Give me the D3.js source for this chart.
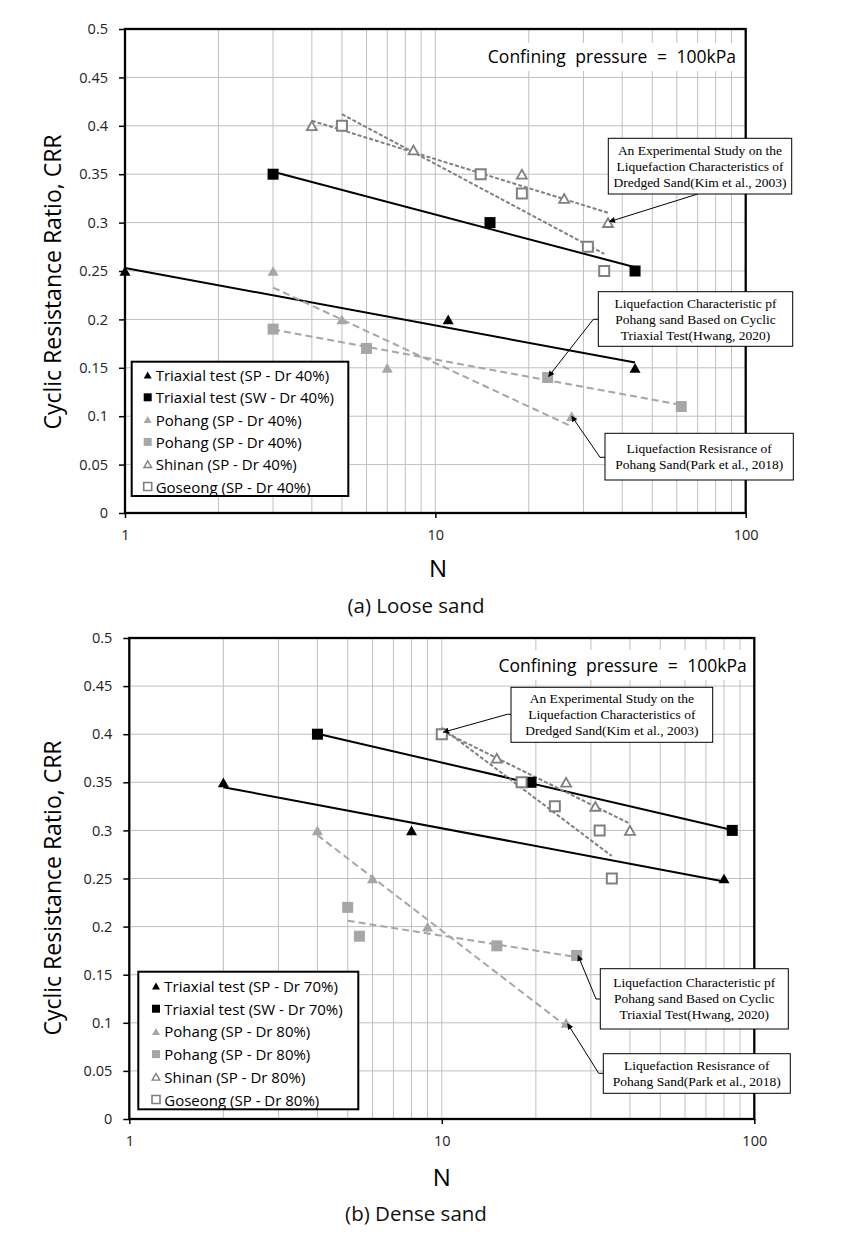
<!DOCTYPE html>
<html><head><meta charset="utf-8">
<script src="https://cdn.jsdelivr.net/npm/d3@7"></script>
<style>body{margin:0;background:#fff} svg{display:block}</style>
</head><body><svg id="c" width="843" height="1233"></svg>
<script>
// ---------------- data ----------------
const yTickValues = [0, 0.05, 0.1, 0.15, 0.2, 0.25, 0.3, 0.35, 0.4, 0.45, 0.5];
const yTickLabels = ["0", "0.05", "0.1", "0.15", "0.2", "0.25", "0.3", "0.35", "0.4", "0.45", "0.5"];
const xTickValues = [1, 10, 100];
const xTickLabels = ["1", "10", "100"];
const yAxisTitle = "Cyclic Resistance Ratio, CRR";
const xAxisTitle = "N";
const pressureNote = "Confining pressure = 100kPa";

// (a) Loose sand  — [N, CRR]
const looseTriaxialSP = [[1, 0.25], [11, 0.2], [44, 0.15]];
const looseTriaxialSW = [[3, 0.35], [15, 0.3], [44, 0.25]];
const loosePohangTri  = [[3, 0.25], [5, 0.2], [7, 0.15], [27.5, 0.1]];
const loosePohangSq   = [[3, 0.19], [6, 0.17], [23, 0.14], [62, 0.11]];
const looseShinan     = [[4, 0.4], [8.5, 0.375], [19, 0.35], [26, 0.325], [36, 0.3]];
const looseGoseong    = [[5, 0.4], [14, 0.35], [19, 0.33], [31, 0.275], [35, 0.25]];
const looseLegend = ["Triaxial test (SP - Dr 40%)", "Triaxial test (SW - Dr 40%)", "Pohang (SP - Dr 40%)",
                     "Pohang (SP - Dr 40%)", "Shinan (SP - Dr 40%)", "Goseong (SP - Dr 40%)"];
const looseCaption = "(a) Loose sand";

// (b) Dense sand — [N, CRR]
const denseTriaxialSP = [[2, 0.35], [8, 0.3], [80, 0.25]];
const denseTriaxialSW = [[4, 0.4], [19.3, 0.35], [85, 0.3]];
const densePohangTri  = [[4, 0.3], [6, 0.25], [9, 0.2], [25, 0.1]];
const densePohangSq   = [[5, 0.22], [5.45, 0.19], [15, 0.18], [27, 0.17]];
const denseShinan     = [[10, 0.4], [15, 0.375], [25, 0.35], [31, 0.325], [40, 0.3]];
const denseGoseong    = [[10, 0.4], [18, 0.35], [23, 0.325], [32, 0.3], [35, 0.25]];
const denseLegend = ["Triaxial test (SP - Dr 70%)", "Triaxial test (SW - Dr 70%)", "Pohang (SP - Dr 80%)",
                     "Pohang (SP - Dr 80%)", "Shinan (SP - Dr 80%)", "Goseong (SP - Dr 80%)"];
const denseCaption = "(b) Dense sand";

// annotation texts
const noteKim   = ["An Experimental Study on the", "Liquefaction Characteristics of", "Dredged Sand(Kim et al., 2003)"];
const noteHwang = ["Liquefaction Characteristic pf", "Pohang sand Based on Cyclic", "Triaxial Test(Hwang, 2020)"];
const notePark  = ["Liquefaction Resisrance of", "Pohang Sand(Park et al., 2018)"];

// ---------------- drawing ----------------
const svg = d3.select("#c");
const SANS = "'Open Sans', 'Noto Sans', sans-serif";
const SERIF = "'Liberation Serif', 'DejaVu Serif', serif";

const defs = svg.append("defs");
defs.append("marker").attr("id", "arrow").attr("viewBox", "0 0 10 10")
  .attr("refX", 9).attr("refY", 5).attr("markerWidth", 7).attr("markerHeight", 6)
  .attr("markerUnits", "userSpaceOnUse").attr("orient", "auto")
  .append("path").attr("d", "M0,0L10,5L0,10Z").attr("fill", "#000");

// logarithmic trend line (CRR = a + b ln N), least squares on the data points
function logFit(pts) {
  const n = pts.length; let sx = 0, sy = 0, sxx = 0, sxy = 0;
  pts.forEach(([x, y]) => { const lx = Math.log(x); sx += lx; sy += y; sxx += lx * lx; sxy += lx * y; });
  const b = (n * sxy - sx * sy) / (n * sxx - sx * sx);
  const a = (sy - b * sx) / n;
  return x => a + b * Math.log(x);
}

function shapePath(shape, size) {
  const s = size / 2;
  if (shape === "square") return `M${-s},${-s}H${s}V${s}H${-s}Z`;
  const h = size * 0.88 / 2;
  return `M0,${-h}L${s},${h}L${-s},${h}Z`;
}

function drawPanel(cfg) {
  const g = svg.append("g");
  const x = d3.scaleLog().domain([1, 100]).range([cfg.left, cfg.right]);
  const y = d3.scaleLinear().domain([0, 0.5]).range([cfg.bottom, cfg.top]);

  // grid
  const minor = [];
  for (let d = 1; d < 100; d *= 10) for (let k = 1; k <= 9; k++) minor.push(d * k);
  g.append("g").selectAll("line").data(minor.filter(v => v > 1 && v < 100)).join("line")
    .attr("x1", d => x(d)).attr("x2", d => x(d)).attr("y1", cfg.top).attr("y2", cfg.bottom)
    .attr("stroke", "#c0c0c0").attr("stroke-width", 1);
  g.append("g").selectAll("line").data(yTickValues.filter(v => v > 0 && v < 0.5)).join("line")
    .attr("x1", cfg.left).attr("x2", cfg.right).attr("y1", d => y(d)).attr("y2", d => y(d))
    .attr("stroke", "#c0c0c0").attr("stroke-width", 1);

  // pressure note with white background
  const nb = cfg.note;
  g.append("rect").attr("x", nb.x0).attr("y", nb.y0).attr("width", nb.x1 - nb.x0).attr("height", nb.y1 - nb.y0).attr("fill", "#fff");
  g.append("text").attr("x", nb.tx).attr("y", nb.ty).attr("text-anchor", "end")
    .attr("font-family", SANS).attr("font-size", 17.5).attr("fill", "#000").attr("word-spacing", 5).text(pressureNote);

  // trend lines
  cfg.series.forEach(s => {
    const f = logFit(s.data);
    const xs = s.data.map(d => d[0]);
    const lo = d3.min(xs), hi = d3.max(xs);
    const samples = [[lo, f(lo)], [hi, f(hi)]];
    g.append("path").datum(samples)
      .attr("d", d3.line().x(d => x(d[0])).y(d => y(d[1])))
      .attr("fill", "none").attr("stroke", s.trendColor).attr("stroke-width", s.trendWidth)
      .attr("stroke-dasharray", s.trendDash || null);
  });

  // markers
  cfg.series.forEach(s => {
    g.append("g").selectAll("path").data(s.data).join("path")
      .attr("transform", d => `translate(${x(d[0])},${y(d[1])})`)
      .attr("d", shapePath(s.shape, s.size))
      .attr("fill", s.fill).attr("stroke", s.stroke).attr("stroke-width", s.strokeWidth);
  });

  // frame
  g.append("rect").attr("x", cfg.left).attr("y", cfg.top).attr("width", cfg.right - cfg.left).attr("height", cfg.bottom - cfg.top)
    .attr("fill", "none").attr("stroke", "#000").attr("stroke-width", 2.3);

  // axes
  const ya = g.append("g").attr("transform", `translate(${cfg.left},0)`)
    .call(d3.axisLeft(y).tickValues(yTickValues).tickFormat((d, i) => yTickLabels[i]).tickSize(6).tickPadding(11));
  ya.select(".domain").remove();
  ya.selectAll(".tick line").attr("stroke", "#000").attr("stroke-width", 1.5);
  ya.selectAll(".tick text").attr("font-family", SANS).attr("font-size", 14.5).attr("fill", "#222");

  const xa = g.append("g").attr("transform", `translate(0,${cfg.bottom})`)
    .call(d3.axisBottom(x).tickValues(xTickValues).tickFormat((d, i) => xTickLabels[i]).tickSize(5).tickPadding(12));
  xa.select(".domain").remove();
  xa.selectAll(".tick line").attr("stroke", "#000").attr("stroke-width", 1.5);
  xa.selectAll(".tick text").attr("font-family", SANS).attr("font-size", 14.5).attr("fill", "#222");

  // axis titles
  g.append("text").attr("transform", `translate(${cfg.yTitleX},${cfg.yTitleY}) rotate(-90)`)
    .attr("text-anchor", "middle").attr("dominant-baseline", "central")
    .attr("font-family", SANS).attr("font-size", 23).attr("fill", "#000").text(yAxisTitle);
  g.append("text").attr("x", cfg.nX).attr("y", cfg.nY).attr("text-anchor", "middle").attr("dominant-baseline", "central")
    .attr("font-family", SANS).attr("font-size", 24).attr("fill", "#000").text(xAxisTitle);
  g.append("text").attr("x", cfg.capX).attr("y", cfg.capY).attr("text-anchor", "middle").attr("dominant-baseline", "central")
    .attr("font-family", SANS).attr("font-size", 20.5).attr("fill", "#111").text(cfg.caption);

  // legend
  const L = cfg.legend;
  g.append("rect").attr("x", L.x0).attr("y", L.y0).attr("width", L.x1 - L.x0).attr("height", L.y1 - L.y0)
    .attr("fill", "#fff").attr("stroke", "#000").attr("stroke-width", 2);
  cfg.series.forEach((s, i) => {
    const cy = L.firstY + i * L.dy;
    g.append("path").attr("transform", `translate(${L.mx},${cy})`).attr("d", shapePath(s.shape, s.legendSize))
      .attr("fill", s.fill).attr("stroke", s.stroke).attr("stroke-width", s.strokeWidth * 0.8);
    g.append("text").attr("x", L.tx).attr("y", cy).attr("dominant-baseline", "central")
      .attr("font-family", SANS).attr("font-size", 15).attr("fill", "#000").text(cfg.legendLabels[i]);
  });

  // annotations
  cfg.notes.forEach(a => {
    const tx = x(a.target[0]), ty = y(a.target[1]);
    const pts = a.path.concat([[tx + a.tipOff[0], ty + a.tipOff[1]]]);
    g.append("path").attr("d", d3.line()(pts)).attr("fill", "none").attr("stroke", "#000").attr("stroke-width", 1)
      .attr("marker-end", "url(#arrow)");
    g.append("rect").attr("x", a.box[0]).attr("y", a.box[1]).attr("width", a.box[2] - a.box[0]).attr("height", a.box[3] - a.box[1])
      .attr("fill", "#fff").attr("stroke", "#000").attr("stroke-width", 1);
    const cx = (a.box[0] + a.box[2]) / 2, cyc = (a.box[1] + a.box[3]) / 2;
    const lh = 16;
    a.lines.forEach((t, i) => {
      g.append("text").attr("x", cx).attr("y", cyc + (i - (a.lines.length - 1) / 2) * lh)
        .attr("text-anchor", "middle").attr("dominant-baseline", "central")
        .attr("font-family", SERIF).attr("font-size", 13.5).attr("fill", "#000").text(t);
    });
  });
}

const BLACK = "#000", LIGHT = "#a6a6a6", MID = "#808080";
function seriesSet(triSP, triSW, pohTri, pohSq, shinan, goseong) {
  return [
    { data: triSP, shape: "triangle", size: 11, legendSize: 8, fill: BLACK, stroke: "none", strokeWidth: 0, trendColor: BLACK, trendWidth: 2 },
    { data: triSW, shape: "square", size: 11, legendSize: 8, fill: BLACK, stroke: "none", strokeWidth: 0, trendColor: BLACK, trendWidth: 2 },
    { data: pohTri, shape: "triangle", size: 11, legendSize: 8, fill: LIGHT, stroke: "none", strokeWidth: 0, trendColor: LIGHT, trendWidth: 2, trendDash: "7,4" },
    { data: pohSq, shape: "square", size: 11, legendSize: 8, fill: LIGHT, stroke: "none", strokeWidth: 0, trendColor: LIGHT, trendWidth: 2, trendDash: "7,4" },
    { data: shinan, shape: "triangle", size: 10, legendSize: 7.5, fill: "#fff", stroke: MID, strokeWidth: 1.8, trendColor: MID, trendWidth: 2, trendDash: "4,2" },
    { data: goseong, shape: "square", size: 10, legendSize: 8, fill: "#fff", stroke: MID, strokeWidth: 2, trendColor: MID, trendWidth: 2, trendDash: "4,2" }
  ];
}

drawPanel({
  left: 125, right: 745.7, top: 29, bottom: 513,
  series: seriesSet(looseTriaxialSP, looseTriaxialSW, loosePohangTri, loosePohangSq, looseShinan, looseGoseong),
  legendLabels: looseLegend, caption: looseCaption,
  yTitleX: 52, yTitleY: 282, nX: 438, nY: 567, capX: 416, capY: 605,
  note: { x0: 482, y0: 43, x1: 738, y1: 71, tx: 736, ty: 63 },
  legend: { x0: 131.7, y0: 361.7, x1: 348.3, y1: 496, firstY: 375, dy: 22.3, mx: 147.7, tx: 155.7 },
  notes: [
    { lines: noteKim, box: [608.3, 138.3, 791.7, 194], path: [[697.7, 194]], target: looseShinan[4], tipOff: [1.5, -1] },
    { lines: noteHwang, box: [598.3, 291.7, 792.7, 346.3], path: [[598.3, 319.3], [593.3, 319.3]], target: loosePohangSq[2], tipOff: [1, -1] },
    { lines: notePark, box: [605, 433.3, 793.3, 480], path: [[605, 457.3], [600, 457.3]], target: loosePohangTri[3], tipOff: [0, 0] }
  ]
});

drawPanel({
  left: 129.3, right: 754.3, top: 638, bottom: 1119,
  series: seriesSet(denseTriaxialSP, denseTriaxialSW, densePohangTri, densePohangSq, denseShinan, denseGoseong),
  legendLabels: denseLegend, caption: denseCaption,
  yTitleX: 52, yTitleY: 888, nX: 441.7, nY: 1176.5, capX: 416, capY: 1213,
  note: { x0: 493, y0: 650, x1: 750, y1: 680, tx: 746.7, ty: 672 },
  legend: { x0: 138.3, y0: 971.7, x1: 358.3, y1: 1109.3, firstY: 986, dy: 22.7, mx: 156, tx: 164.3 },
  notes: [
    { lines: noteKim, box: [511, 687.3, 712.7, 742.3], path: [[511, 714.3], [507.3, 714.3]], target: denseShinan[0], tipOff: [1.5, -2] },
    { lines: noteHwang, box: [600.3, 968.7, 788.3, 1029], path: [[600.3, 999], [596, 999]], target: densePohangSq[3], tipOff: [1.5, 0] },
    { lines: notePark, box: [603.3, 1053.7, 790.3, 1093.3], path: [[603.3, 1073.3], [598.7, 1073.3]], target: densePohangTri[3], tipOff: [1.5, 1] }
  ]
});
</script>
</body></html>
